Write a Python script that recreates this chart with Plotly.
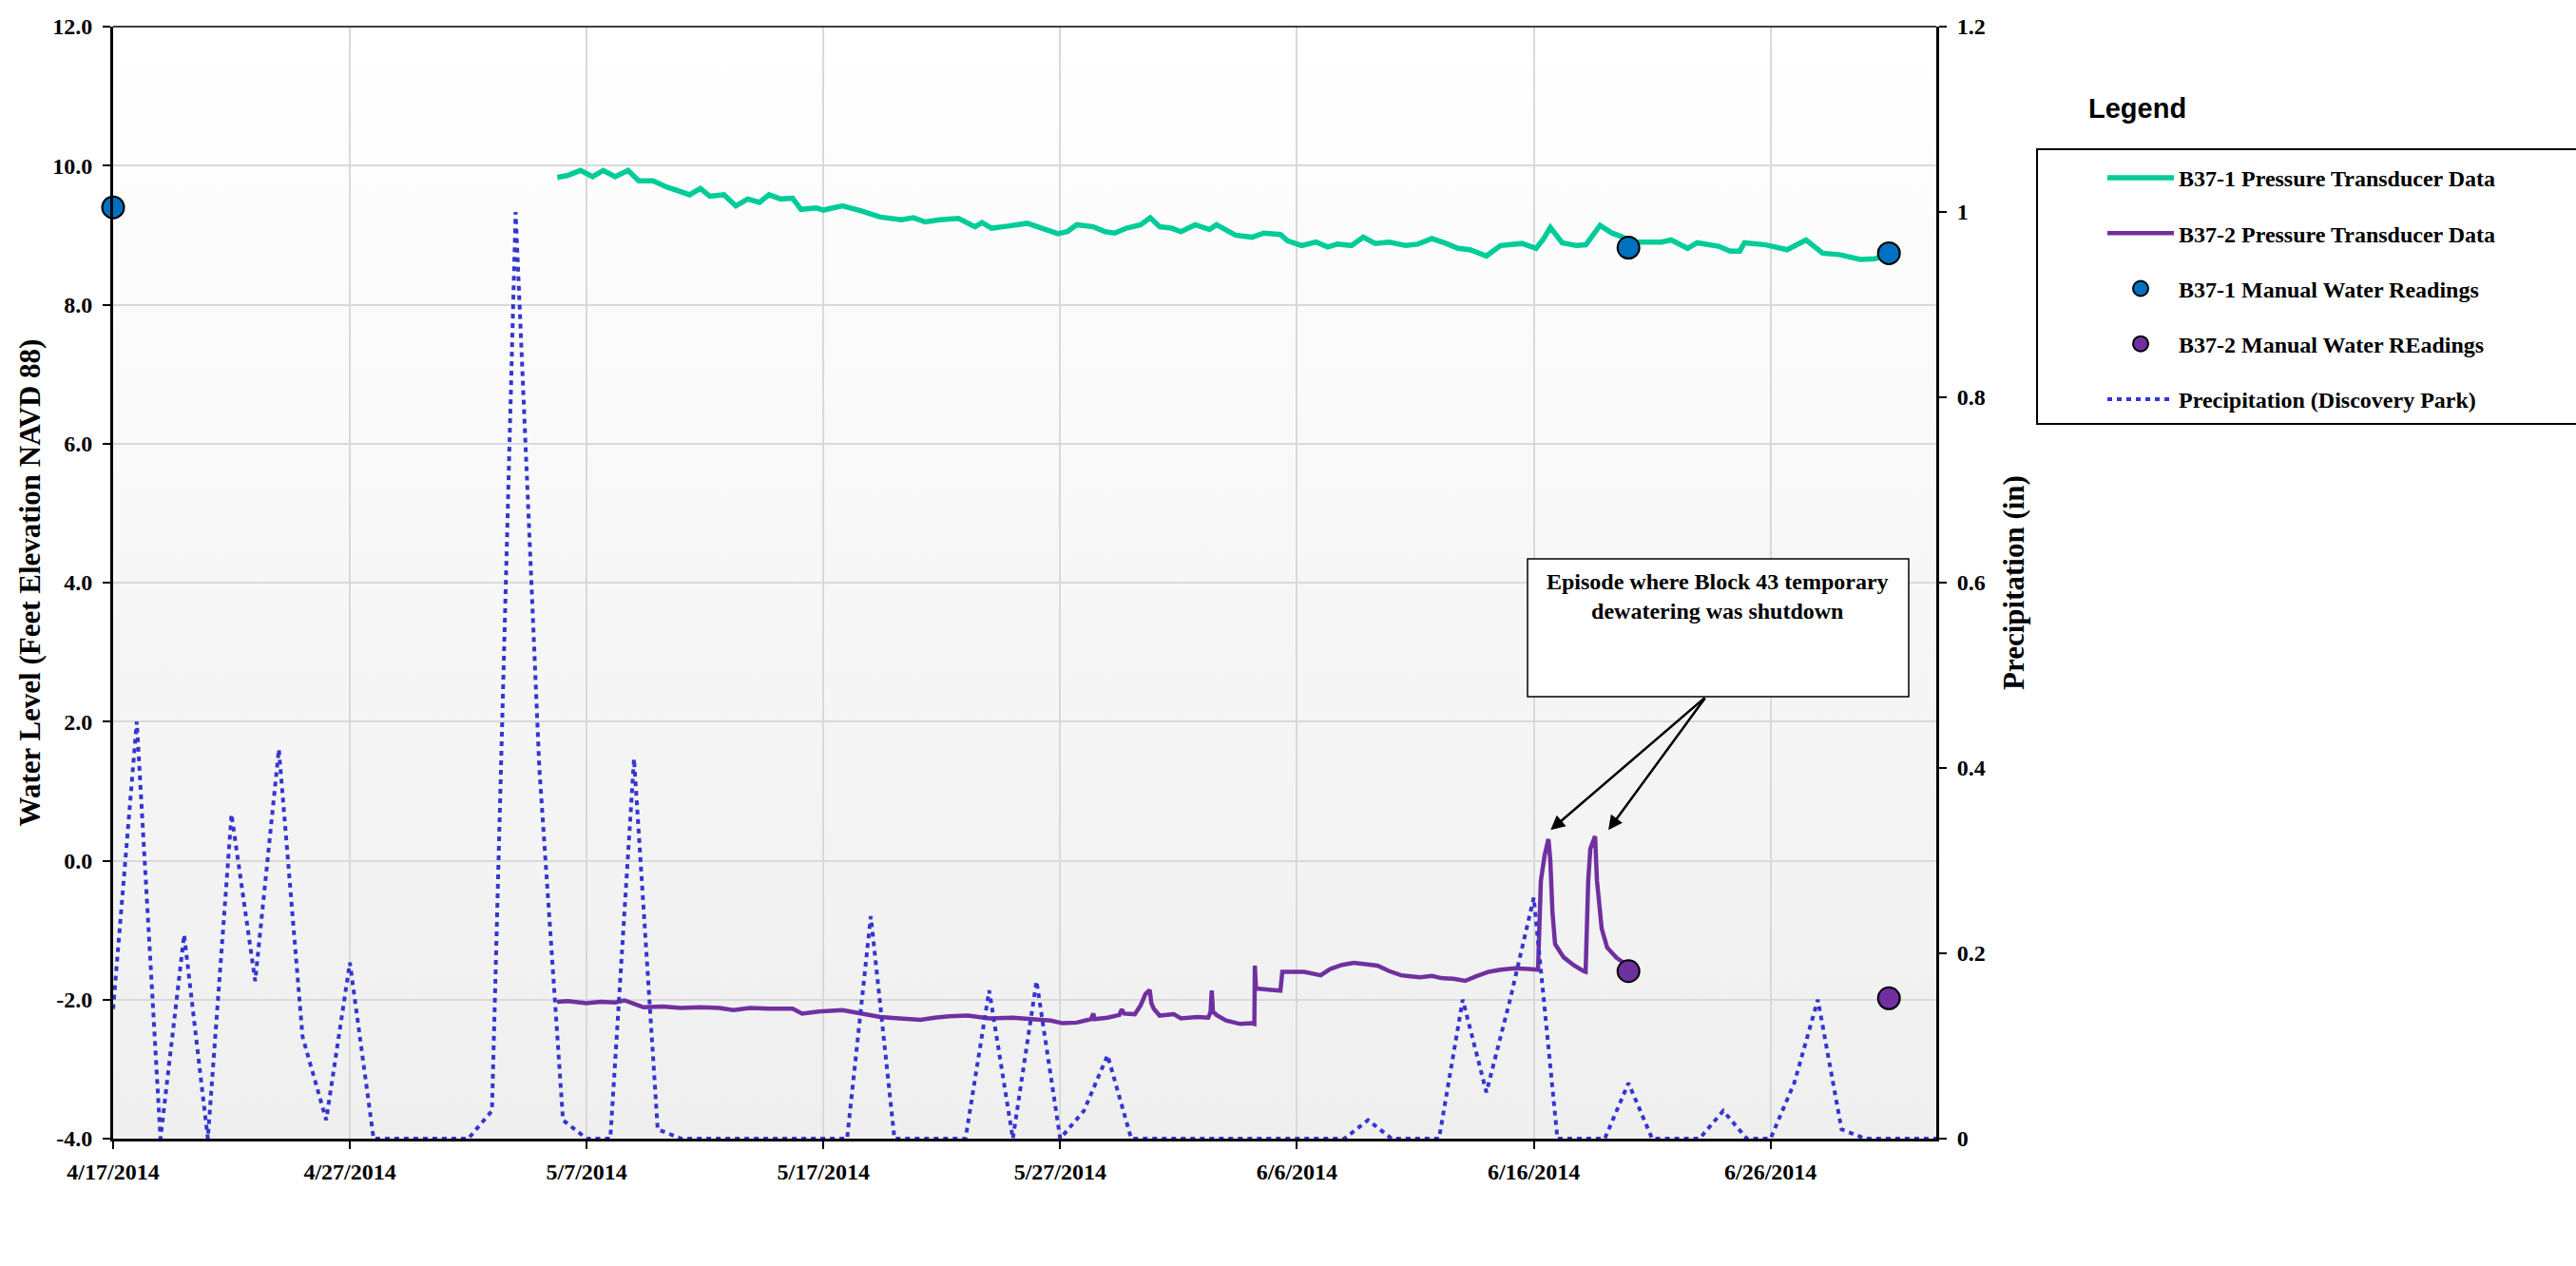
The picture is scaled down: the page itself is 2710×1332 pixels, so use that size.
import base64
import pandas as pd
import plotly.graph_objects as go

START = pd.Timestamp("2014-04-17")
END_DAY = 77  # x axis runs 4/17/2014 .. 7/3/2014

# B37-1 pressure transducer record: days after 4/17/2014 00:00, ft (NAVD 88)
b371_days = [18.76, 19.2, 19.74, 20.25, 20.7, 21.2, 21.75, 22.2, 22.8, 23.4, 23.94, 24.35,
             24.8, 25.2, 25.8, 26.3, 26.8, 27.3, 27.7, 28.2, 28.7, 29.05, 29.7, 30.0, 30.8,
             31.6, 32.4, 33.3, 33.8, 34.3, 34.9, 35.7, 36.0, 36.4, 36.7, 37.1, 37.8, 38.6,
             39.4, 39.9, 40.3, 40.7, 41.4, 41.9, 42.3, 42.8, 43.4, 43.8, 44.2, 44.7, 45.1,
             45.7, 46.3, 46.6, 47.4, 48.1, 48.6, 49.3, 49.6, 50.2, 50.8, 51.3, 51.7, 52.3,
             52.8, 53.3, 53.9, 54.6, 55.1, 55.7, 56.3, 56.8, 57.3, 58.0, 58.6, 59.5, 60.1,
             60.4, 60.7, 61.2, 61.8, 62.2, 62.8, 63.3, 63.7, 64.2, 64.7, 65.4, 65.8, 66.5,
             66.9, 67.8, 68.3, 68.7, 68.9, 69.8, 70.7, 71.0, 71.5, 72.2, 72.9, 73.8, 74.4,
             74.9]
b371_level = [9.83, 9.86, 9.93, 9.84, 9.93, 9.84, 9.93, 9.78, 9.78, 9.69, 9.63, 9.58,
              9.67, 9.56, 9.58, 9.42, 9.52, 9.47, 9.58, 9.52, 9.53, 9.37, 9.39, 9.36, 9.42,
              9.35, 9.26, 9.22, 9.25, 9.19, 9.22, 9.24, 9.19, 9.12, 9.18, 9.10, 9.13, 9.17,
              9.08, 9.02, 9.05, 9.15, 9.12, 9.05, 9.03, 9.10, 9.15, 9.25, 9.12, 9.10, 9.05,
              9.15, 9.08, 9.15, 9.00, 8.97, 9.03, 9.01, 8.92, 8.85, 8.90, 8.83, 8.87, 8.85,
              8.97, 8.88, 8.90, 8.85, 8.87, 8.95, 8.88, 8.81, 8.79, 8.70, 8.85, 8.88, 8.81,
              8.94, 9.11, 8.89, 8.85, 8.86, 9.14, 9.03, 8.98, 8.90, 8.90, 8.90, 8.93, 8.81,
              8.89, 8.84, 8.77, 8.77, 8.89, 8.86, 8.79, 8.85, 8.93, 8.74, 8.72, 8.65, 8.66,
              8.72]

# B37-2 pressure transducer record: days after 4/17/2014 00:00, ft (NAVD 88)
b372_days = [18.75, 19.2, 19.98, 20.6, 21.2, 21.6, 22.0, 22.4, 23.2, 23.98, 24.8, 25.6,
             26.2, 26.9, 27.7, 28.7, 29.1, 29.8, 30.8, 31.6, 32.4, 33.2, 34.1, 34.7, 35.3,
             36.1, 37.0, 38.0, 39.0, 39.6, 40.1, 40.7, 41.3, 41.4, 41.45, 42.0, 42.5, 42.6,
             42.7, 43.15, 43.4, 43.6, 43.78, 43.85, 43.95, 44.2, 44.8, 45.1, 45.8, 46.25,
             46.35, 46.4, 46.45, 46.6, 47.0, 47.6, 48.1, 48.2, 48.22, 48.27, 48.9, 49.3,
             49.38, 50.3, 51.0, 51.4, 51.9, 52.4, 52.9, 53.4, 53.9, 54.4, 54.7, 55.2, 55.7,
             56.1, 56.6, 57.1, 57.6, 58.1, 58.6, 59.2, 59.8, 60.18, 60.3, 60.46, 60.62,
             60.7, 60.79, 60.9, 61.26, 61.67, 62.1, 62.19, 62.3, 62.39, 62.59, 62.67, 62.87,
             63.1, 63.5, 63.8]
b372_level = [-2.03, -2.02, -2.05, -2.03, -2.04, -2.01, -2.06, -2.11, -2.10, -2.12, -2.11,
              -2.12, -2.15, -2.12, -2.13, -2.13, -2.20, -2.17, -2.15, -2.20, -2.25, -2.27,
              -2.29, -2.26, -2.24, -2.23, -2.27, -2.26, -2.28, -2.30, -2.34, -2.33, -2.28,
              -2.20, -2.28, -2.26, -2.22, -2.14, -2.20, -2.21, -2.08, -1.92, -1.86, -2.05,
              -2.13, -2.23, -2.21, -2.27, -2.25, -2.26, -2.18, -1.87, -2.17, -2.22, -2.30,
              -2.35, -2.34, -2.35, -1.51, -1.84, -1.86, -1.87, -1.60, -1.60, -1.65, -1.56,
              -1.50, -1.47, -1.49, -1.51, -1.59, -1.65, -1.66, -1.68, -1.66, -1.69, -1.70,
              -1.73, -1.66, -1.60, -1.57, -1.55, -1.56, -1.57, -0.29, 0.08, 0.31, 0.00,
              -0.74, -1.20, -1.39, -1.50, -1.59, -1.60, -0.29, 0.17, 0.35, -0.29, -0.98,
              -1.25, -1.40, -1.47]

# Manual water level readings
b371_manual_dates = ["2014-04-17", "2014-06-20", "2014-07-01"]
b371_manual_level = [9.40, 8.82, 8.74]
b372_manual_dates = ["2014-06-20", "2014-07-01"]
b372_manual_level = [-1.59, -1.98]

# Daily precipitation at Discovery Park, 4/17/2014 .. 7/3/2014 (in)
precip_first, precip_last = "2014-04-17", "2014-07-03"
precip_in = [
    # April 17-30
    0.14, 0.45, 0.00, 0.22, 0.00, 0.35, 0.17, 0.42, 0.11, 0.02, 0.19, 0.00, 0.00, 0.00,
    # May 1-31
    0.00, 0.00, 0.03, 1.00, 0.40, 0.02, 0.00, 0.00, 0.41, 0.01, 0.00, 0.00, 0.00, 0.00,
    0.00, 0.00, 0.00, 0.00, 0.24, 0.00, 0.00, 0.00, 0.00, 0.16, 0.00, 0.17, 0.00, 0.03,
    0.09, 0.00, 0.00,
    # June 1-30
    0.00, 0.00, 0.00, 0.00, 0.00, 0.00, 0.00, 0.00, 0.02, 0.00, 0.00, 0.00, 0.15, 0.05,
    0.15, 0.26, 0.00, 0.00, 0.00, 0.06, 0.00, 0.00, 0.00, 0.03, 0.00, 0.00, 0.06, 0.15,
    0.01, 0.00,
    # July 1-3
    0.00, 0.00, 0.00,
]

# Axis ticks
level_ticks = [-4, -2, 0, 2, 4, 6, 8, 10, 12]
level_ticktext = ["-4.0", "-2.0", "0.0", "2.0", "4.0", "6.0", "8.0", "10.0", "12.0"]
precip_ticks = [0, 0.2, 0.4, 0.6, 0.8, 1.0, 1.2]
precip_ticktext = ["0", "0.2", "0.4", "0.6", "0.8", "1", "1.2"]

TEAL = "#00CC99"
PURPLE = "#7030A0"
BLUE = "#0070C0"
RAIN = "#3535D0"
GRID = "#D9D9D9"


def at(day):
    return START + pd.Timedelta(days=float(day))


def stamp(day):
    return at(day).strftime("%Y-%m-%d %H:%M:%S")


def serif(size):
    return dict(family="Liberation Serif", size=size, color="black", weight="bold")


precip_dates = pd.date_range(precip_first, precip_last, freq="D")
x_range = [stamp(0), stamp(END_DAY)]
TEN_DAYS = 10 * 24 * 3600 * 1000

fig = go.Figure()

fig.add_trace(go.Scatter(
    x=[at(d) for d in b371_days], y=b371_level, mode="lines",
    name="B37-1 Pressure Transducer Data", legendgroup="g1",
    line=dict(color=TEAL, width=5.5), yaxis="y", xaxis="x"))
fig.add_trace(go.Scatter(
    x=[at(d) for d in b372_days], y=b372_level, mode="lines",
    name="B37-2 Pressure Transducer Data", legendgroup="g2",
    line=dict(color=PURPLE, width=4.5), yaxis="y", xaxis="x"))
fig.add_trace(go.Scatter(
    x=b371_manual_dates, y=b371_manual_level, mode="markers",
    name="B37-1 Manual Water Readings", legendgroup="g3",
    marker=dict(color=BLUE, size=23, line=dict(color="black", width=2)),
    cliponaxis=False, yaxis="y", xaxis="x"))
fig.add_trace(go.Scatter(
    x=b372_manual_dates, y=b372_manual_level, mode="markers",
    name="B37-2 Manual Water REadings", legendgroup="g4",
    marker=dict(color=PURPLE, size=23, line=dict(color="black", width=2)),
    cliponaxis=False, yaxis="y", xaxis="x"))
fig.add_trace(go.Scatter(
    x=precip_dates, y=precip_in, mode="lines",
    name="Precipitation (Discovery Park)", legendgroup="g5",
    line=dict(color=RAIN, width=4, dash="5px,5px"), yaxis="y2", xaxis="x"))

# soft vertical shading of the plotting area
grad_svg = (
    '<svg xmlns="http://www.w3.org/2000/svg" width="10" height="100" '
    'preserveAspectRatio="none"><defs><linearGradient id="g" x1="0" y1="0" x2="0" y2="1">'
    '<stop offset="0" stop-color="#ffffff"/><stop offset="1" stop-color="#efefef"/>'
    '</linearGradient></defs><rect width="10" height="100" fill="url(#g)"/></svg>'
)
grad_src = "data:image/svg+xml;base64," + base64.b64encode(grad_svg.encode()).decode()

common_tick = dict(tickcolor="black", tickwidth=2)

fig.update_layout(
    width=2710, height=1332,
    margin=dict(l=119, r=673, t=28, b=134, pad=0),
    paper_bgcolor="white", plot_bgcolor="rgba(0,0,0,0)",
    font=serif(24),
    showlegend=True,
    images=[dict(source=grad_src, xref="paper", yref="paper", x=0, y=1, sizex=1, sizey=1,
                 sizing="stretch", layer="below", xanchor="left", yanchor="top")],
    xaxis=dict(
        type="date", range=x_range, tick0=stamp(0), dtick=TEN_DAYS,
        tickformat="%-m/%-d/%Y", ticks="outside", ticklen=8, **common_tick,
        tickfont=serif(24), ticklabelstandoff=3,
        showline=True, linecolor="black", linewidth=3,
        showgrid=True, gridcolor=GRID, gridwidth=2, zeroline=False),
    xaxis2=dict(
        type="date", overlaying="x", anchor="y", side="bottom", range=x_range,
        tick0=stamp(0), dtick=TEN_DAYS, ticks="inside", ticklen=8, **common_tick,
        showticklabels=False, showline=False, showgrid=False, zeroline=False),
    yaxis=dict(
        range=[-4, 12], tickvals=level_ticks, ticktext=level_ticktext,
        ticks="outside", ticklen=8, **common_tick, tickfont=serif(24), ticklabelstandoff=6,
        showline=True, linecolor="black", linewidth=3,
        showgrid=True, gridcolor=GRID, gridwidth=2, zeroline=False,
        title=dict(text="Water Level (Feet Elevation NAVD 88)", font=serif(31), standoff=4)),
    yaxis2=dict(
        overlaying="y", side="right", anchor="x", range=[0, 1.2],
        tickvals=precip_ticks, ticktext=precip_ticktext,
        ticks="outside", ticklen=8, **common_tick, tickfont=serif(24), ticklabelstandoff=6,
        showline=True, linecolor="black", linewidth=3,
        showgrid=False, zeroline=False,
        title=dict(text="Precipitation (in)", font=serif(31), standoff=20)),
    yaxis3=dict(
        overlaying="y", side="left", anchor="x", range=[-4, 12], tickvals=level_ticks,
        ticks="inside", ticklen=8, **common_tick, showticklabels=False,
        showline=False, showgrid=False, zeroline=False),
    yaxis4=dict(
        overlaying="y", side="right", anchor="x", range=[0, 1.2], tickvals=precip_ticks,
        ticks="inside", ticklen=8, **common_tick, showticklabels=False,
        showline=False, showgrid=False, zeroline=False),
    legend=dict(
        x=(2212 - 119) / 1918, y=(1198 - 165) / 1170, xanchor="left", yanchor="top",
        bgcolor="rgba(0,0,0,0)", borderwidth=0, font=serif(24),
        traceorder="grouped", tracegroupgap=24, itemwidth=70),
)

# top border of the plotting area
fig.add_shape(type="line", xref="paper", yref="paper", x0=0, x1=1, y0=1, y1=1,
              line=dict(color="black", width=1.5))

# legend frame and heading
fig.add_shape(type="rect", xref="paper", yref="paper",
              x0=(2143 - 119) / 1918, x1=(2720 - 119) / 1918,
              y0=(1198 - 446) / 1170, y1=(1198 - 157) / 1170,
              line=dict(color="black", width=2), fillcolor="rgba(0,0,0,0)")
fig.add_annotation(text="Legend", xref="paper", yref="paper",
                   x=(2195 - 119) / 1918, y=(1198 - 114) / 1170,
                   xanchor="left", yanchor="middle", showarrow=False,
                   font=dict(family="Liberation Sans", size=29, color="black", weight="bold"))

# call-out box for the dewatering shutdown episode
fig.add_shape(type="rect", xref="paper", yref="paper",
              x0=(1607 - 119) / 1918, x1=(2008 - 119) / 1918,
              y0=(1198 - 733) / 1170, y1=(1198 - 588) / 1170,
              line=dict(color="black", width=1.5), fillcolor="white", layer="above")
fig.add_annotation(text="Episode where Block 43 temporary<br>dewatering was shutdown",
                   xref="paper", yref="paper", x=(1807 - 119) / 1918, y=(1198 - 627) / 1170,
                   xanchor="center", yanchor="middle", align="center", showarrow=False,
                   font=serif(24))

tail_day, tail_level = 67.28, 2.36
for head_day in (60.71, 63.15):
    fig.add_annotation(x=stamp(head_day), y=0.44, xref="x", yref="y",
                       ax=stamp(tail_day), ay=tail_level, axref="x", ayref="y",
                       text="", showarrow=True, arrowhead=2, arrowsize=1.2,
                       arrowwidth=2.5, arrowcolor="black")

fig.write_html("out.html")
